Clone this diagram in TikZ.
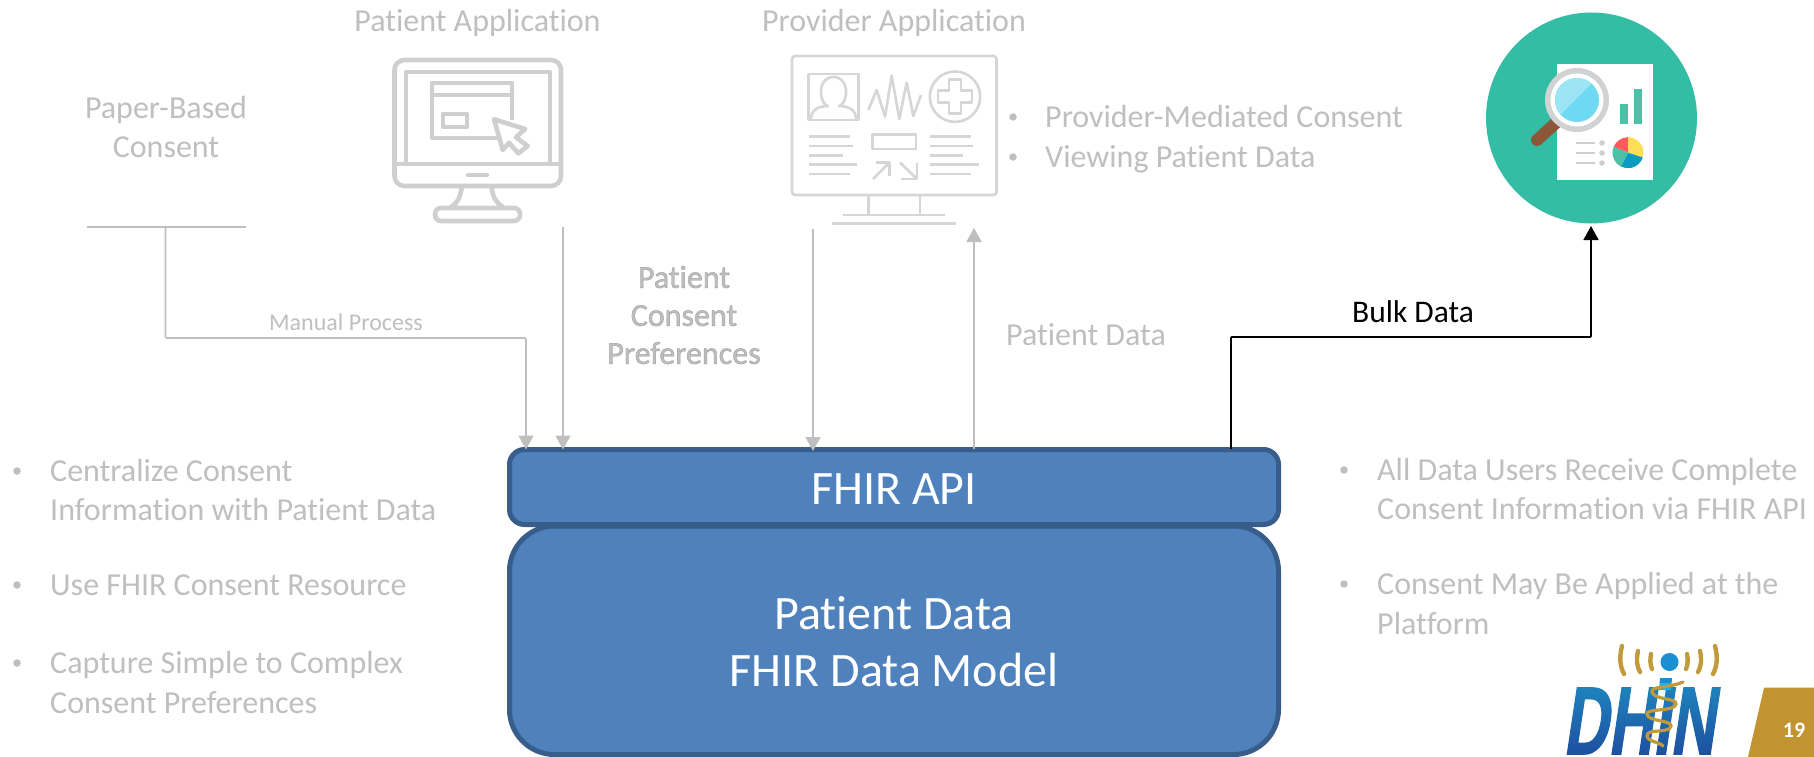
\documentclass[tikz,border=0pt]{standalone}
\usepackage{fontspec}
\setmainfont[Ligatures=NoCommon]{Carlito}
\newfontfamily\logofont{Liberation Sans}
\usetikzlibrary{arrows.meta,shapes.geometric}
\definecolor{txtgray}{HTML}{BFBFBF}
\definecolor{icongray}{HTML}{CFCFCF}
\definecolor{iconlight}{HTML}{D6D6D6}
\definecolor{boxblue}{HTML}{4F81BD}
\definecolor{boxline}{HTML}{385D8A}
\definecolor{teal}{HTML}{33BDA5}
\definecolor{softteal}{HTML}{4DC0A8}
\definecolor{gold}{HTML}{C19431}
\definecolor{logogold}{HTML}{C19A3C}
\tikzset{
  lbl/.style={text=txtgray,font=\fontsize{32}{38}\selectfont,inner sep=0pt,anchor=center,align=center},
  bul/.style={text=txtgray,font=\fontsize{32}{39.5}\selectfont,inner sep=0pt,anchor=west,align=left},
  bdot/.style={circle,fill=txtgray,inner sep=0pt,minimum size=7.5pt},
  grayarrow/.style={draw=txtgray,line width=1.6pt,-{Triangle[length=14pt,width=15pt]}},
  blackarrow/.style={draw=black,line width=1.8pt,-{Triangle[length=14pt,width=15pt]}},
  apibox/.style={draw=boxline,fill=boxblue,line width=5pt},
  whitetxt/.style={text=white,inner sep=0pt,anchor=center,align=center},
  ic1/.style={draw=icongray,line width=4.6pt,line join=round,line cap=round},
  ic2/.style={draw=iconlight,line width=2.6pt,line join=round},
  sig/.style={draw=logogold,line width=4.4pt,line cap=round},
}
\begin{document}
\begin{tikzpicture}[x=1pt,y=-1pt]
\useasboundingbox (0,0) rectangle (1814,757);
\fill[white] (0,0) rectangle (1814,757);

% data box and API box
\draw[apibox,rounded corners=45pt] (509.5,526) rectangle (1278.5,754.5);
\node[whitetxt,font=\fontsize{48}{57}\selectfont] (model) at (894,642) {Patient Data\\FHIR Data Model};
\draw[apibox,rounded corners=15pt] (509.5,449.5) rectangle (1278.5,524.5);
\node[whitetxt,font=\fontsize{48}{52}\selectfont] (api) at (894,489) {FHIR API};

% top labels
\node[lbl] (paper) at (166,127) {Paper-Based\\[1.5pt]Consent};
\node[lbl] (patapp) at (477.5,23) {Patient Application};
\node[lbl] (provapp) at (894,22.5) {Provider Application};
\draw[draw=txtgray,line width=1.5pt] (87,227) coordinate (pl) -- (246,227) coordinate (pr);
\coordinate (p0) at (165.5,227);
\coordinate (i1) at (526,449.5);
\coordinate (pa0) at (563,227);
\coordinate (i2) at (563,449.5);
\coordinate (pv0) at (813,229);
\coordinate (i3) at (813,451);
\coordinate (up0) at (974,449);
\coordinate (up1) at (974,228);
\coordinate (b0) at (1231,449);
\coordinate (b1) at (1591,226);

\draw[grayarrow,rounded corners=1pt] (p0) |- (526,338) -- (i1);
\draw[grayarrow] (pa0) -- (i2);
\draw[grayarrow] (pv0) -- (i3);
\draw[grayarrow] (up0) -- (up1);
\draw[blackarrow,rounded corners=1pt] (b0) |- (1591,337) -- (b1);

\node[text=txtgray,font=\fontsize{24}{28}\selectfont,inner sep=0pt] (manual) at (346,322) {Manual Process};
\node[inner sep=0pt,font=\fontsize{31.5}{36}\selectfont] (bulk) at (1413,312) {Bulk Data};
\node[lbl] (pdata) at (1086,335) {Patient Data};

% outlined text
\node[text=txtgray,inner sep=0pt,align=center,font=\fontsize{32}{38}\selectfont] (pcp) at (684,315)
  {\special{pdf:literal direct 2 Tr 0.4 w 0.62 0.62 0.62 RG}Patient\\Consent\\Preferences\special{pdf:literal direct 0 Tr}};

% bullets provider
\node[bdot] (bp1) at (1013,117) {};
\node[bul] (tp1) at (1045,117) {Provider-Mediated Consent};
\node[bdot] (bp2) at (1013,157) {};
\node[bul] (tp2) at (1045,159) {Viewing Patient Data};

% bullets left
\node[bdot] (bl1) at (17,471) {};
\node[bul] (tl1) at (50,490) {Centralize Consent\\Information with Patient Data};
\node[bdot] (bl2) at (17,585) {};
\node[bul] (tl2) at (50,585) {Use FHIR Consent Resource};
\node[bdot] (bl3) at (17,663) {};
\node[bul] (tl3) at (50,682.5) {Capture Simple to Complex\\Consent Preferences};

% bullets right
\node[bdot] (br1) at (1344,470) {};
\node[bul] (tr1) at (1377,489) {All Data Users Receive Complete\\Consent Information via FHIR API};
\node[bdot] (br2) at (1344,584) {};
\node[bul] (tr2) at (1377,603.5) {Consent May Be Applied at the\\Platform};

% patient monitor icon
\draw[ic1,rounded corners=10pt] (394.5,60) rectangle (561,186);
\draw[ic1] (394.5,164) -- (561,164);
\draw[ic1,line cap=butt] (406,164) -- (406,72) -- (550,72) -- (550,164);
\draw[ic1,line cap=butt] (497,138) -- (432,138) -- (432,83) -- (512,83) -- (512,120);
\draw[ic1] (432,95) -- (512,95);
\draw[ic1] (443,114) rectangle (467,127);
\draw[ic1,fill=white] (494,119.3) -- (525,129) -- (516,137.3) -- (527.7,146) -- (518.3,153.3) -- (509,142.7) -- (502.7,150) -- cycle;
\draw[ic1] (468,175) -- (487,175);
\draw[ic1] (461.7,188) .. controls (460,197) and (458,203) .. (451,207);
\draw[ic1] (491.7,188) .. controls (493,197) and (496,203) .. (503,207);
\draw[ic1,rounded corners=6pt] (435,208) rectangle (520,221);

% provider monitor icon
\draw[ic2,rounded corners=3pt] (792,56) rectangle (996.5,195);
\draw[ic2] (808.5,74) rectangle (858.5,120);
\draw[ic2] (827,106) .. controls (818,100) and (818,77) .. (833.5,77) .. controls (849,77) and (849,100) .. (840,106);
\draw[ic2] (811,119) .. controls (811,110) and (818,106) .. (829,106);
\draw[ic2] (856,119) .. controls (856,110) and (849,106) .. (838,106);
\draw[ic2,line join=round] (868.3,110) -- (876.7,90) -- (885,116.7) -- (891.7,75.7) -- (899.3,119) -- (906.7,82.7) -- (913.3,116) -- (921,95);
\draw[ic2] (955,96.7) circle (25.2pt);
\draw[ic2] (949,79.7) -- (961,79.7) -- (961,90.7) -- (972,90.7) -- (972,102.7) -- (961,102.7) -- (961,113.7) -- (949,113.7) -- (949,102.7) -- (938,102.7) -- (938,90.7) -- (949,90.7) -- cycle;
\foreach \yy/\xx in {136.7/850,146/853.3,155.3/842.7,164.7/857.3,174/850}{\draw[ic2] (809.3,\yy) -- (\xx,\yy);}
\foreach \yy/\xx in {136.7/970.7,146/973.3,155.3/962.7,164.7/978.7,174/970.7}{\draw[ic2] (930,\yy) -- (\xx,\yy);}
\draw[ic2] (872.5,134.3) rectangle (916,149);
\draw[ic2] (873,179) -- (889.5,162.5);
\draw[ic2] (876,162.5) -- (889.5,162.5) -- (889.5,176);
\draw[ic2] (900,162.5) -- (917,179);
\draw[ic2] (901,179) -- (917,179) -- (917,163);
\draw[ic2] (868.3,195) -- (868.3,215);
\draw[ic2] (920,195) -- (920,215);
\draw[ic2] (843.3,215) -- (945,215);
\draw[ic2] (832.3,223.3) -- (955.7,223.3);

% report icon
\fill[teal] (1591.5,118) circle (105.5pt);
\fill[white] (1557,64) rectangle (1653,180);
\draw[line width=12pt,line cap=round,color={rgb,255:red,139;green,87;blue,56}] (1537,140) -- (1558,121);
\fill[color={rgb,255:red,208;green,210;blue,211}] (1577,100) circle (32pt);
\fill[white] (1577,100) circle (26.5pt);
\fill[color={rgb,255:red,111;green,216;blue,243}] (1577,100) circle (22pt);
\begin{scope}
\clip (1577,100) circle (22pt);
\fill[color={rgb,255:red,156;green,229;blue,245}] (1550,125) -- (1600,75) -- (1550,70) -- cycle;
\end{scope}
\fill[softteal] (1620,104.5) rectangle (1628,124);
\fill[softteal] (1634,89) rectangle (1642,124);
\foreach \yy in {143,153,163}{
  \draw[draw=icongray,line width=1.6pt] (1576,\yy) -- (1595,\yy);
  \fill[icongray] (1602,\yy) circle (2.8pt);
}
\coordinate (pie) at (1628,152.7);
\fill[color={rgb,255:red,255;green,91;blue,91}] (pie) -- ++(90:15.5pt) arc[start angle=90,delta angle=68,radius=15.5pt] -- cycle;
\fill[color={rgb,255:red,255;green,221;blue,85}] (pie) -- ++(90:15.5pt) arc[start angle=90,delta angle=-108,radius=15.5pt] -- cycle;
\fill[color={rgb,255:red,10;green,155;blue,195}] (pie) -- ++(-18:15.5pt) arc[start angle=-18,delta angle=-99,radius=15.5pt] -- cycle;
\fill[softteal] (pie) -- ++(-117:15.5pt) arc[start angle=-117,delta angle=-85,radius=15.5pt] -- cycle;

% logo
\node[inner sep=0pt,anchor=base west,text={rgb,255:red,30;green,78;blue,160},font=\logofont\bfseries\fontsize{96}{96}\selectfont,
  xslant=0.15,xscale=0.645] (dhin) at (1563,754) {\special{pdf:literal direct 2 Tr 1.6 w 0.118 0.306 0.627 RG}DHIN\special{pdf:literal direct 0 Tr}};
\fill[color={rgb,255:red,30;green,140;blue,210}] (1660,678) -- (1672,678) -- (1671,690) -- (1659,690) -- cycle;
\begin{scope}[blend mode=screen]
\shade[top color={rgb,255:red,0;green,80;blue,80},bottom color=black] (1560,683) rectangle (1725,756);
\end{scope}
\fill[color={rgb,255:red,27;green,143;blue,210}] (1669.5,662) circle (9pt);
\draw[draw=logogold,line width=3.2pt,line cap=round] (1683,682) .. controls (1670,688) and (1650,686) .. (1652,692) .. controls (1654,700) and (1677,698) .. (1676,704) .. controls (1675,712) and (1646,708) .. (1647,714) .. controls (1648,722) and (1672,720) .. (1671,726) .. controls (1670,734) and (1646,728) .. (1647,736) .. controls (1648,742) and (1660,742) .. (1663,746);
\draw[sig] (1622,646) .. controls (1619,658) and (1620,666) .. (1624,674);
\draw[sig] (1638,651) .. controls (1636,660) and (1637,667) .. (1640,672);
\draw[sig] (1651,654) .. controls (1650,660) and (1650,664) .. (1652,669);
\draw[sig] (1715,646) .. controls (1718,658) and (1717,666) .. (1713,674);
\draw[sig] (1700,651) .. controls (1702,660) and (1701,667) .. (1698,672);
\draw[sig] (1687,654) .. controls (1688,660) and (1688,664) .. (1686,669);

% page number tab
\fill[gold] (1764,687.7) -- (1814,687.7) -- (1814,757) -- (1748,757) -- cycle;
\node[text=white,font=\bfseries\fontsize{22}{26}\selectfont,inner sep=0pt] (pg) at (1794,730) {19};
\end{tikzpicture}
\end{document}
